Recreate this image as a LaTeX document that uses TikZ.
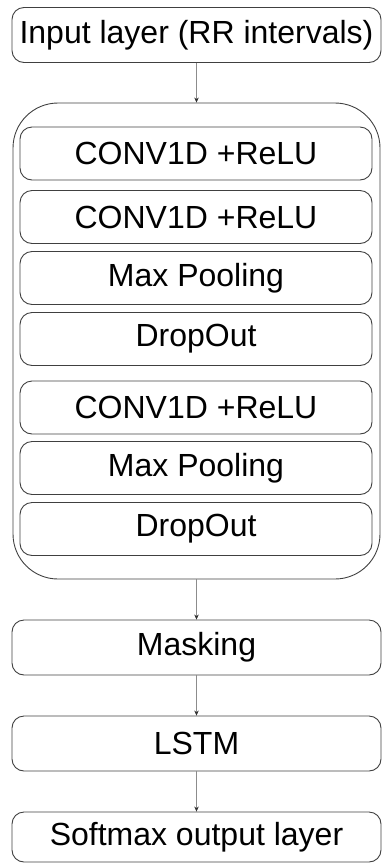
\documentclass[tikz,border=0pt]{standalone}
\usepackage{fontspec}
\setmainfont{Liberation Sans}
\usetikzlibrary{arrows.meta}
\begin{document}
\begin{tikzpicture}[x=1pt,y=-1pt,
  outerbox/.style={draw=black!75, line width=0.9pt, rounded corners=12pt, minimum width=369pt, minimum height=55pt, inner sep=0pt, font=\fontsize{32}{35}\selectfont},
  layerbox/.style={draw=black!75, line width=0.9pt, rounded corners=12pt, minimum width=352pt, minimum height=53pt, inner sep=0pt, font=\fontsize{32}{35}\selectfont},
  groupbox/.style={draw=black!75, line width=0.9pt, rounded corners=45pt, minimum width=367pt, minimum height=476pt, inner sep=0pt},
  flow/.style={draw=black!45, line width=0.6pt, -{Stealth[length=5pt,width=4.5pt,black!80]}}
]
\useasboundingbox (0,0) rectangle (382,863);
\node[outerbox] (inp) at (196.5,35) {Input layer (RR intervals)};
\node[groupbox] (cnn) at (196.5,341) {};
\node[layerbox] (c1) at (196,153.5) {CONV1D +ReLU};
\node[layerbox] (c2) at (196,217) {CONV1D +ReLU};
\node[layerbox] (m1) at (196,278) {Max Pooling};
\node[layerbox] (d1) at (196,339) {DropOut};
\node[layerbox] (c3) at (196,407.5) {CONV1D +ReLU};
\node[layerbox] (m2) at (196,468) {Max Pooling};
\node[layerbox] (d2) at (196,529) {DropOut};
\node[outerbox] (mask) at (196.5,647.5) {Masking};
\node[outerbox] (lstm) at (196.5,743.5) {LSTM};
\node[outerbox, minimum height=50pt] (soft) at (196.5,837) {Softmax output layer};
\draw[flow] (inp) -- (cnn);
\draw[flow] (cnn) -- (mask);
\draw[flow] (mask) -- (lstm);
\draw[flow] (lstm) -- (soft);
\end{tikzpicture}
\end{document}
